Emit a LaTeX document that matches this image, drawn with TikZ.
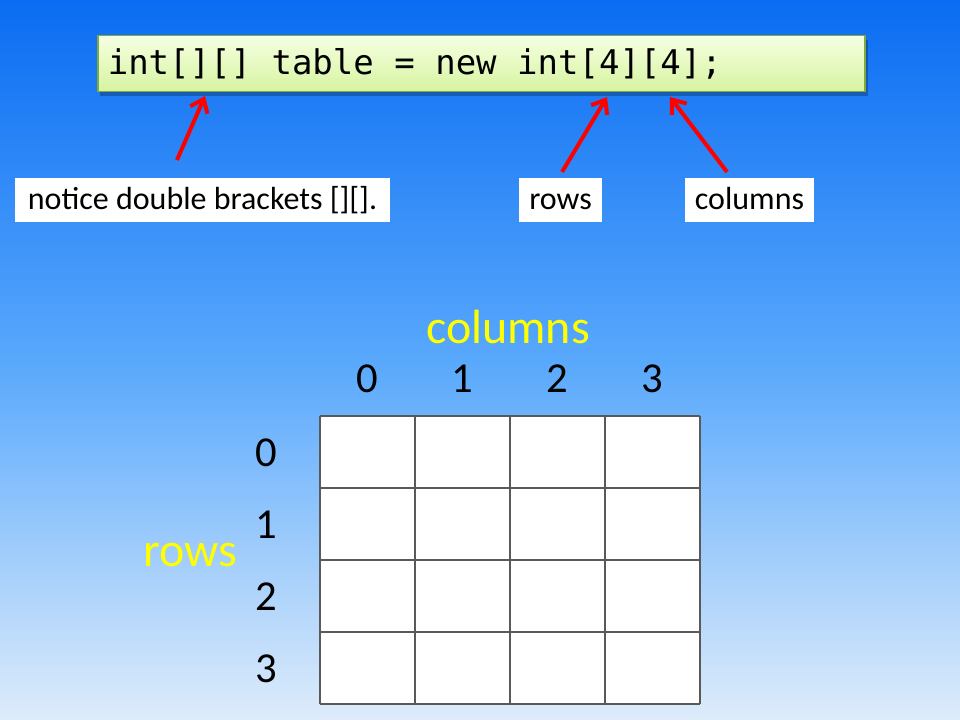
\documentclass[tikz,border=0pt]{standalone}
\usepackage{fontspec}
\setmainfont{Carlito}
\newfontfamily\codefont{DejaVu Sans Mono}
\usetikzlibrary{arrows.meta}
\definecolor{skytop}{RGB}{10,108,242}
\definecolor{skymid}{RGB}{88,168,252}
\definecolor{skybot}{RGB}{222,236,251}
\definecolor{codetop}{RGB}{246,255,226}
\definecolor{codebot}{RGB}{214,244,160}
\definecolor{codeedge}{RGB}{128,170,60}
\definecolor{labelyellow}{RGB}{255,255,0}
\newcommand{\codesp}{\hphantom{0}}
\tikzset{
  codebox/.style={draw=codeedge, line width=1.2pt, top color=codetop, bottom color=codebot,
    minimum width=575.25pt, minimum height=42pt, inner xsep=7.5pt, text width=560.25pt,
    align=left, anchor=west, font=\codefont\fontsize{25.5}{30}\selectfont},
  notebox/.style={fill=white, minimum height=33pt, inner xsep=7.5pt, text height=17pt,
    text depth=3pt, font=\fontsize{24}{28}\selectfont},
  pointer/.style={red, line width=3pt, -{Straight Barb[length=9pt,width=14pt,line width=3pt]}},
  yellowlabel/.style={labelyellow, font=\fontsize{36}{40}\selectfont},
  indexlabel/.style={font=\fontsize{32}{36}\selectfont}
}
\begin{document}
\begin{tikzpicture}[x=0.75pt,y=-0.75pt]

\shade[top color=skytop, bottom color=skybot, middle color=skymid] (0,0) rectangle (960,720);
\useasboundingbox (0,0) rectangle (960,720);

% code line
\fill[black, opacity=0.25] (100,40) rectangle (868,96);
\node[codebox] (code) at (97,63.5) {int[][]\codesp table\codesp=\codesp new\codesp int[4][4];};

% notes under the code
\node[notebox, minimum width=281.25pt] (notice) at (202.5,200) {notice double brackets [][].};
\node[notebox, minimum width=62.25pt] (rowsnote) at (560.5,200) {rows};
\node[notebox, minimum width=96.75pt] (colsnote) at (749.5,200) {columns};

\coordinate (tailA) at (177,160);
\coordinate (tipA) at (205,96);
\coordinate (tailB) at (562,172);
\coordinate (tipB) at (607,97);
\coordinate (tailC) at (727,172);
\coordinate (tipC) at (670,97);
\draw[pointer] (tailA) -- (tipA);
\draw[pointer] (tailB) -- (tipB);
\draw[pointer] (tailC) -- (tipC);

% the table
\fill[white] (320,416) rectangle (700,704);
\foreach \i in {0,1,2,3,4} {
  \draw[black!65, line width=0.9pt] (320 + \i*95, 416) -- (320 + \i*95, 704);
  \draw[black!65, line width=0.9pt] (320, 416 + \i*72) -- (700, 416 + \i*72);
}

\node[yellowlabel] (columns) at (508,327) {columns};
\node[yellowlabel] (rows) at (190,555) {rows};

\foreach \i in {0,1,2,3} {
  \node[indexlabel] (col\i) at (367.5 + \i*95, 379) {\i};
  \node[indexlabel] (row\i) at (266, 453 + \i*72) {\i};
}

\end{tikzpicture}
\end{document}
